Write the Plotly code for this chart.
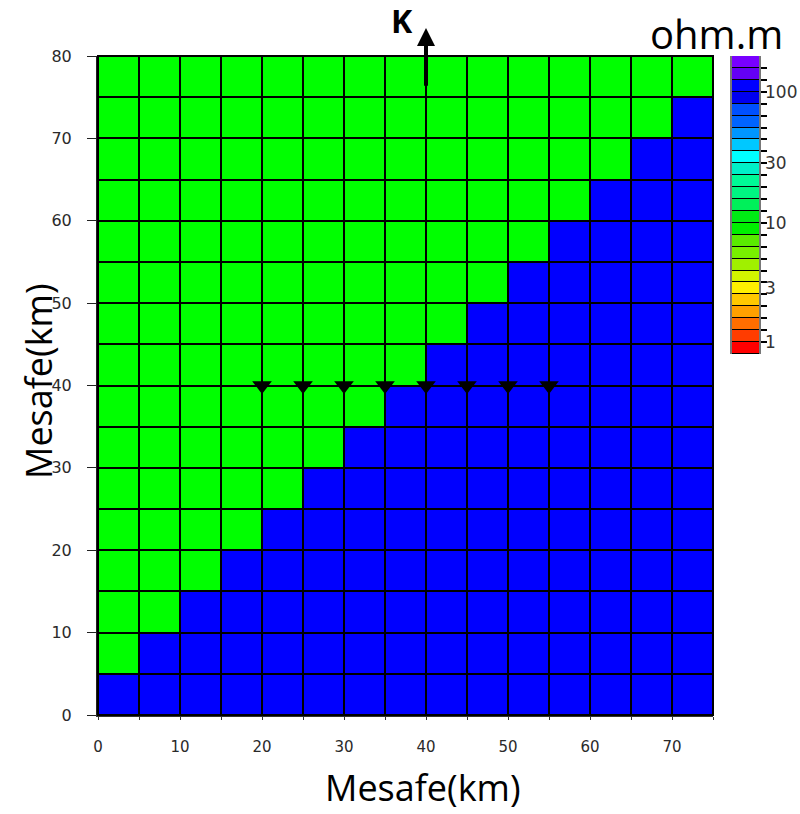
import plotly.graph_objects as go

# ---- data ----
x_centers = [2.5, 7.5, 12.5, 17.5, 22.5, 27.5, 32.5, 37.5, 42.5, 47.5, 52.5, 57.5, 62.5, 67.5, 72.5]
y_centers = [2.5, 7.5, 12.5, 17.5, 22.5, 27.5, 32.5, 37.5, 42.5, 47.5, 52.5, 57.5, 62.5, 67.5, 72.5, 77.5]
# resistivity (ohm.m), rows from bottom (y=2.5) to top (y=77.5)
resistivity = [
    [100, 100, 100, 100, 100, 100, 100, 100, 100, 100, 100, 100, 100, 100, 100],
    [10, 100, 100, 100, 100, 100, 100, 100, 100, 100, 100, 100, 100, 100, 100],
    [10, 10, 100, 100, 100, 100, 100, 100, 100, 100, 100, 100, 100, 100, 100],
    [10, 10, 10, 100, 100, 100, 100, 100, 100, 100, 100, 100, 100, 100, 100],
    [10, 10, 10, 10, 100, 100, 100, 100, 100, 100, 100, 100, 100, 100, 100],
    [10, 10, 10, 10, 10, 100, 100, 100, 100, 100, 100, 100, 100, 100, 100],
    [10, 10, 10, 10, 10, 10, 100, 100, 100, 100, 100, 100, 100, 100, 100],
    [10, 10, 10, 10, 10, 10, 10, 100, 100, 100, 100, 100, 100, 100, 100],
    [10, 10, 10, 10, 10, 10, 10, 10, 100, 100, 100, 100, 100, 100, 100],
    [10, 10, 10, 10, 10, 10, 10, 10, 10, 100, 100, 100, 100, 100, 100],
    [10, 10, 10, 10, 10, 10, 10, 10, 10, 10, 100, 100, 100, 100, 100],
    [10, 10, 10, 10, 10, 10, 10, 10, 10, 10, 10, 100, 100, 100, 100],
    [10, 10, 10, 10, 10, 10, 10, 10, 10, 10, 10, 10, 100, 100, 100],
    [10, 10, 10, 10, 10, 10, 10, 10, 10, 10, 10, 10, 10, 100, 100],
    [10, 10, 10, 10, 10, 10, 10, 10, 10, 10, 10, 10, 10, 10, 100],
    [10, 10, 10, 10, 10, 10, 10, 10, 10, 10, 10, 10, 10, 10, 10],
]
station_x = [20, 25, 30, 35, 40, 45, 50, 55]
station_y = [40, 40, 40, 40, 40, 40, 40, 40]

x_tickvals = [0, 10, 20, 30, 40, 50, 60, 70]
y_tickvals = [0, 10, 20, 30, 40, 50, 60, 70, 80]

# colour bar bands, bottom to top
cbar_colors = [
    "rgb(255,0,0)", "rgb(255,60,0)", "rgb(255,110,0)", "rgb(255,160,0)", "rgb(255,200,0)",
    "rgb(255,240,0)", "rgb(210,245,0)", "rgb(160,240,0)", "rgb(120,240,0)", "rgb(90,235,0)",
    "rgb(0,240,0)", "rgb(0,235,20)", "rgb(0,240,90)", "rgb(0,245,130)", "rgb(0,250,150)",
    "rgb(0,240,200)", "rgb(0,255,255)", "rgb(0,200,255)", "rgb(0,150,255)", "rgb(0,100,255)",
    "rgb(0,80,255)", "rgb(0,0,240)", "rgb(0,0,255)", "rgb(100,0,245)", "rgb(120,0,255)",
]
cbar_labels = ["1", "3", "10", "30", "100"]
cbar_label_pos = [1, 5.5, 11, 16, 22]

# ---- figure ----
n = len(cbar_colors)
band_scale = []
for i, c in enumerate(cbar_colors):
    band_scale.append([i / n, c])
    band_scale.append([(i + 1) / n, c])

fig = go.Figure()
fig.add_trace(go.Heatmap(
    x=x_centers, y=y_centers, z=resistivity,
    colorscale=[[0, "rgb(0,255,0)"], [1, "rgb(0,0,255)"]],
    zmin=10, zmax=100, showscale=False, xgap=2, ygap=2, hoverinfo="skip",
))
fig.add_trace(go.Scatter(
    x=station_x, y=station_y, mode="markers",
    marker=dict(symbol="triangle-down", size=17, color="black"),
    showlegend=False, cliponaxis=False,
))
fig.add_trace(go.Heatmap(
    x=[0], y=[i + 0.5 for i in range(n)], z=[[i] for i in range(n)],
    colorscale=band_scale, zmin=-0.5, zmax=n - 0.5, showscale=False, ygap=1,
    xaxis="x2", yaxis="y2", hoverinfo="skip",
))

W, H = 800, 814
ml, mr, mt, mb = 98, 40, 56, 99
pw, ph = W - ml - mr, H - mt - mb

def px_x(p):
    return (p - ml) / pw

def px_y(p):
    return (H - mb - p) / ph

fig.update_layout(
    width=W, height=H,
    margin=dict(l=ml, r=mr, t=mt, b=mb),
    paper_bgcolor="white", plot_bgcolor="black",
    showlegend=False,
    xaxis=dict(
        domain=[0, px_x(713)], range=[0, 75], showgrid=False, zeroline=False,
        tickvals=x_tickvals, ticks="outside", ticklen=3, tickcolor="#333",
        minor=dict(dtick=5, ticks="outside", ticklen=3, tickcolor="#333"),
        showline=True, linecolor="#333", linewidth=2,
        tickfont=dict(family="DejaVu Sans", size=15, color="#2a2a2a"), ticklabelstandoff=14,
    ),
    yaxis=dict(
        domain=[0, 1], range=[0, 80], showgrid=False, zeroline=False,
        tickvals=y_tickvals, ticks="outside", ticklen=9, tickcolor="#222",
        showline=True, linecolor="#222", linewidth=2,
        tickfont=dict(family="DejaVu Sans", size=16, color="#2a2a2a"), ticklabelstandoff=12,
    ),
    xaxis2=dict(domain=[px_x(732), px_x(759)], range=[-0.5, 0.5], visible=False, anchor="y2"),
    yaxis2=dict(
        domain=[px_y(354), px_y(56)], range=[0, n], anchor="x2", side="right",
        tickvals=list(range(1, n)), ticks="outside", ticklen=6, tickcolor="black", tickwidth=1.5,
        showticklabels=False, showgrid=False, zeroline=False,
        showline=True, mirror=True, linecolor="#777", linewidth=2,
    ),
)

fig.add_shape(type="rect", xref="x domain", yref="y domain", x0=0, x1=1, y0=0, y1=1,
              line=dict(color="black", width=2))

annotations = []
for lab, pos in zip(cbar_labels, cbar_label_pos):
    annotations.append(dict(text=lab, x=px_x(763), y=pos, xref="paper", yref="y2",
                            xanchor="left", yanchor="middle", showarrow=False,
                            font=dict(family="DejaVu Sans", size=17, color="#333333")))
annotations += [
    dict(text="ohm.m", x=px_x(716), y=px_y(33), xref="paper", yref="paper",
         xanchor="center", yanchor="middle", showarrow=False,
         font=dict(family="Open Sans", size=40, color="black")),
    dict(text="Mesafe(km)", x=px_x(423), y=px_y(787), xref="paper", yref="paper",
         xanchor="center", yanchor="middle", showarrow=False,
         font=dict(family="Open Sans", size=36, color="black")),
    dict(text="Mesafe(km)", x=px_x(38), y=px_y(381), xref="paper", yref="paper",
         xanchor="center", yanchor="middle", showarrow=False, textangle=-90,
         font=dict(family="Open Sans", size=36, color="black")),
    dict(text="<b>K</b>", x=px_x(402), y=px_y(20), xref="paper", yref="paper",
         xanchor="center", yanchor="middle", showarrow=False,
         font=dict(family="Open Sans", size=32, color="black")),
    dict(text="", x=40, y=83.4, xref="x", yref="y", ax=40, ay=76.2, axref="x", ayref="y",
         showarrow=True, arrowhead=2, arrowsize=0.9, arrowwidth=4, arrowcolor="black", standoff=0),
]
fig.update_layout(annotations=annotations)

fig.write_html("out.html")
